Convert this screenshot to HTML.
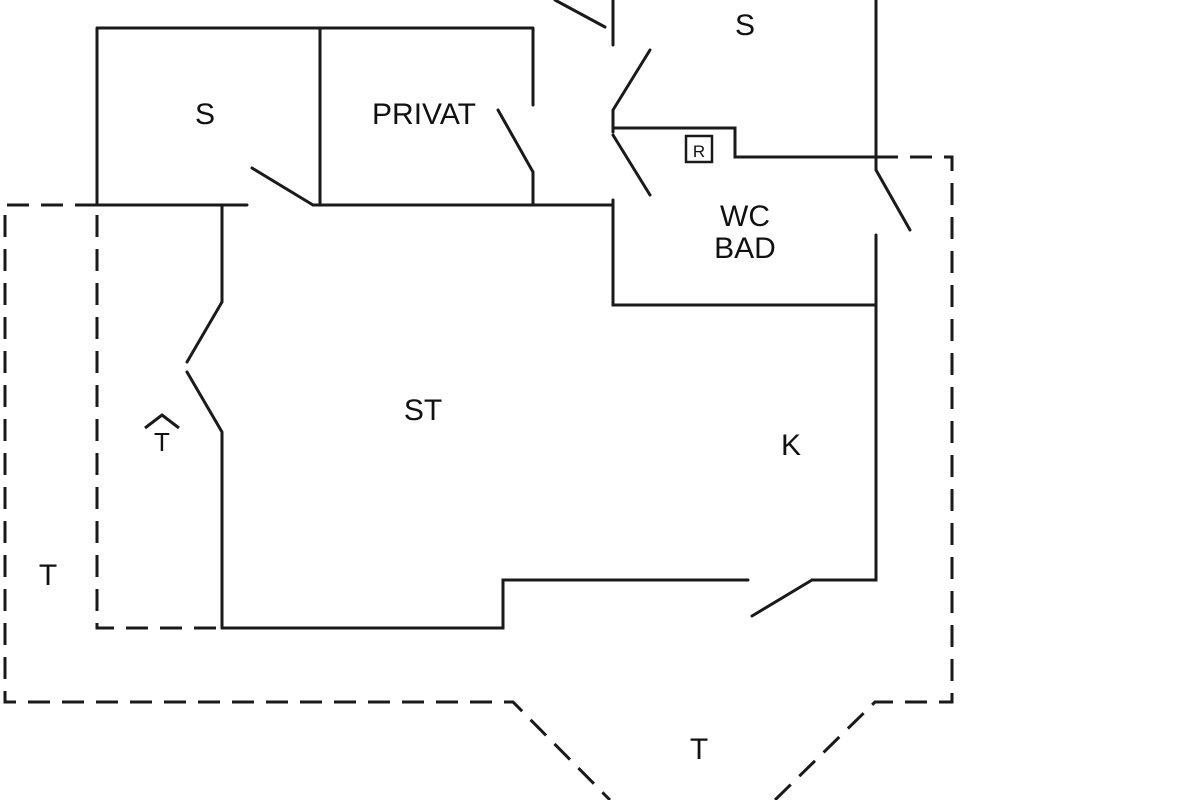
<!DOCTYPE html>
<html><head><style>
html,body{margin:0;padding:0;background:#fff;}
svg{display:block;}
text{font-family:"Liberation Sans",sans-serif;font-size:30px;fill:#111;text-anchor:middle;}
</style></head><body>
<svg width="1200" height="800" viewBox="0 0 1200 800">
<g stroke="#1a1a1a" stroke-width="3" fill="none" stroke-linecap="round">
<path d="M97 28H533M97 28V205M320 28V205M533 28V105"/>
<path d="M87 205H247M313 205H613M252 168L313 205"/>
<path d="M498 110L533 172V205"/>
<path d="M555 0L605 27M613 0V45"/>
<path d="M650 50L613 110V132M613 128H735V157H876M613 135L650 195M613 200V305H876"/>
<path d="M876 0V170M876 170L910 230M876 235V580H812M812 580L752 616M748 580H503V628H222"/>
<path d="M222 205V302L187 362M187 372L222 432V628"/>
</g>
<g stroke="#1a1a1a" stroke-width="3" fill="none" stroke-dasharray="22 12">
<path d="M97 205H5V702H513L610 800"/>
<path d="M97 215V628H222"/>
<path d="M876 157H952V702H875L775 800"/>
</g>
<rect x="686" y="136" width="26" height="26" fill="none" stroke="#1a1a1a" stroke-width="2.5"/>
<text x="699" y="157" style="font-size:17px">R</text>
<text x="205" y="124">S</text>
<text x="424" y="124">PRIVAT</text>
<text x="745" y="35">S</text>
<text x="745" y="226">WC</text>
<text x="745" y="258">BAD</text>
<text x="423" y="420">ST</text>
<text x="791" y="455">K</text>
<text x="48" y="585">T</text>
<text x="699" y="759">T</text>
<text x="162" y="451" style="font-size:26px">T</text>
<path d="M145 428L162 415L179 428" stroke="#1a1a1a" stroke-width="3" fill="none"/>
</svg>
</body></html>
